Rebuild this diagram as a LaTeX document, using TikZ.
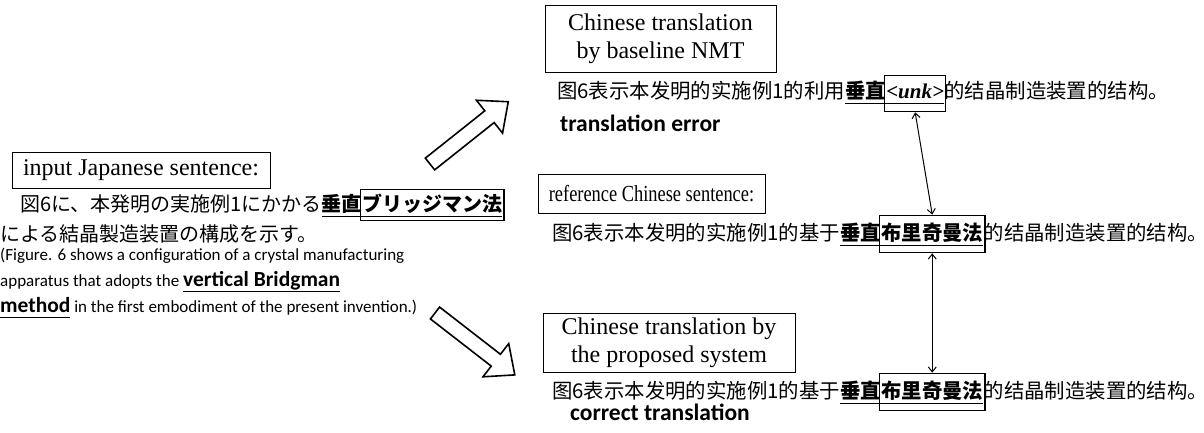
\documentclass[tikz,border=0pt]{standalone}
\usepackage{fontspec}
\setmainfont{Liberation Serif}
\newfontfamily\narrowserif[FakeStretch=0.8]{Liberation Serif}
\newfontfamily\jpfont{Noto Sans CJK JP}
\newfontfamily\zhfont{Noto Sans CJK SC}
\newfontfamily\cbfont{Carlito}
\usetikzlibrary{arrows.meta,fit,positioning}

\newcommand{\ulword}[1]{\underline{#1\rule[-3.5pt]{0pt}{1pt}}}
\newcommand{\termfont}{\cbfont\bfseries\fontsize{21.5}{24}\selectfont}

\tikzset{
  label box/.style={draw, line width=0.9pt, inner xsep=6pt, align=center,
    font=\fontsize{24}{28}\selectfont},
  jp text/.style={inner sep=0pt, anchor=base west, font=\jpfont\fontsize{20}{24}\selectfont},
  zh text/.style={inner sep=0pt, anchor=base west, font=\zhfont\fontsize{20.4}{24}\selectfont},
  en text/.style={inner sep=0pt, anchor=base west, font=\cbfont\fontsize{17}{20}\selectfont},
  note text/.style={inner sep=0pt, anchor=base west, font=\cbfont\bfseries\fontsize{23.5}{26}\selectfont},
  word box/.style={draw, line width=1.3pt, inner xsep=1.5pt, inner ysep=7pt},
  block arrow/.style={draw, line width=1.6pt, line join=miter},
  pairlink/.style={<->, >={Straight Barb[length=5pt,width=8pt]}, line width=1pt},
}

\begin{document}
\begin{tikzpicture}[x=1pt, y=-1pt]
  \useasboundingbox (0,0) rectangle (1204,432);

  % input sentence
  \node[label box, minimum width=258, minimum height=36] (inbox) at (141,170) {input Japanese sentence:};
  \node[jp text] (jpA) at (0,211) {　図6に、本発明の実施例1にかかる\ulword{\bfseries 垂直}};
  \node[jp text] (jpB) at (jpA.base east) {\ulword{\bfseries ブリッジマン法}};
  \node[jp text] (jpC) at (0,241) {による結晶製造装置の構成を示す。};
  \node[word box, fit=(jpB), inner ysep=4pt] (jpterm) {};
  \node[en text] (enA) at (0,260) {(Figure. 6 shows a configuration of a crystal manufacturing};
  \node[en text] (enB) at (0,286) {apparatus that adopts the {\termfont\ulword{vertical Bridgman}}};
  \node[en text] (enC) at (0,312) {{\termfont\ulword{method}} in the first embodiment of the present invention.)};

  % block arrows
  \draw[block arrow, shift={(430,164)}, rotate=38.5]
    (0,-7.5) -- (76,-7.5) -- (76,-21) -- (100,0) -- (76,21) -- (76,7.5) -- (0,7.5) -- cycle;
  \draw[block arrow, shift={(435,313)}, rotate=-37.8]
    (0,-7.5) -- (77,-7.5) -- (77,-21) -- (101,0) -- (77,21) -- (77,7.5) -- (0,7.5) -- cycle;

  % baseline NMT
  \node[label box, minimum width=231, minimum height=67] (nmtbox) at (660.5,38.5) {Chinese translation\\by baseline NMT};
  \node[zh text] (zhA) at (557,98) {图6表示本发明的实施例1的利用\ulword{\bfseries 垂直}};
  \node[zh text] (zhAunk) at (zhA.base east) {\ulword{\rmfamily\bfseries\itshape\fontsize{21}{24}\selectfont <unk>}};
  \node[zh text] (zhAend) at (zhAunk.base east) {的结晶制造装置的结构。};
  \node[word box, fit=(zhAunk), inner ysep=8pt] (unkbox) {};
  \node[note text] (errnote) at (560,131) {translation error};

  % reference
  \node[label box, minimum width=227, minimum height=39, font=\narrowserif\fontsize{23}{28}\selectfont] (refbox) at (651.5,193.5) {reference Chinese sentence:};
  \node[zh text] (zhB) at (552,240) {图6表示本发明的实施例1的基于\ulword{\bfseries 垂直}};
  \node[zh text] (zhBterm) at (zhB.base east) {\ulword{\bfseries 布里奇曼法}};
  \node[zh text] (zhBend) at (zhBterm.base east) {的结晶制造装置的结构。};
  \node[word box, fit=(zhBterm)] (refterm) {};

  % proposed system
  \node[label box, minimum width=252, minimum height=59] (propbox) at (669,342.5) {Chinese translation by\\the proposed system};
  \node[zh text] (zhC) at (552,398) {图6表示本发明的实施例1的基于\ulword{\bfseries 垂直}};
  \node[zh text] (zhCterm) at (zhC.base east) {\ulword{\bfseries 布里奇曼法}};
  \node[zh text] (zhCend) at (zhCterm.base east) {的结晶制造装置的结构。};
  \node[word box, fit=(zhCterm)] (propterm) {};
  \node[note text] (oknote) at (570,420) {correct translation};

  \draw[pairlink] (unkbox.south) -- (refterm.north);
  \draw[pairlink] (refterm.south) -- (propterm.north);
\end{tikzpicture}
\end{document}
